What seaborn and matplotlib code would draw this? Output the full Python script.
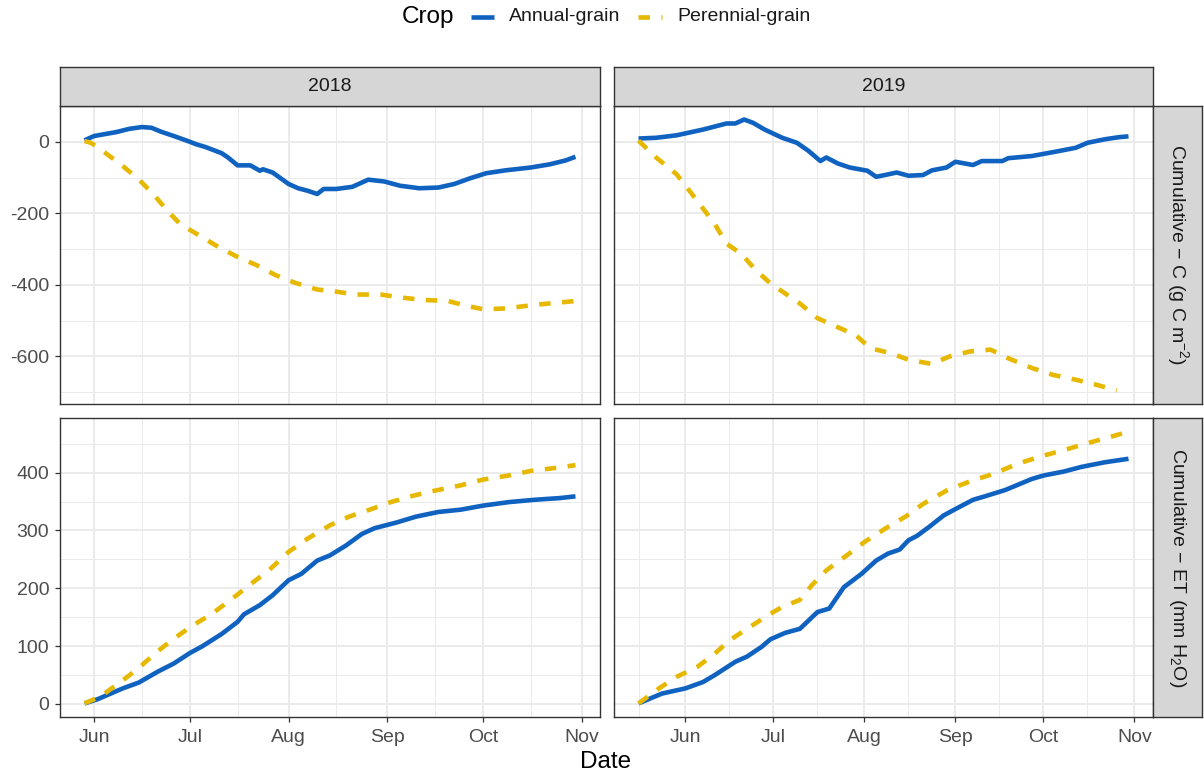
import numpy as np
import pandas as pd
import matplotlib
matplotlib.use("Agg")
import matplotlib.pyplot as plt
import matplotlib.dates as mdates
from matplotlib.lines import Line2D
from matplotlib.ticker import MultipleLocator
import seaborn as sns

# ---------------- data ----------------
years = ["2018", "2019"]
crops = ["Annual-grain", "Perennial-grain"]
variables = ["C", "ET"]
row_labels = ["Cumulative \u2212 C (g C m$^{-2}$)", "Cumulative \u2212 ET (mm H$_2$O)"]

c18_annual_dates = ["05-29", "06-01", "06-08", "06-12", "06-16", "06-19", "06-22", "06-26", "07-01", "07-03",
                    "07-06", "07-11", "07-13", "07-16", "07-20", "07-23", "07-24", "07-27", "08-01", "08-04",
                    "08-07", "08-10", "08-12", "08-16", "08-21", "08-23", "08-26", "08-31", "09-05", "09-11",
                    "09-17", "09-22", "09-27", "10-02", "10-08", "10-16", "10-22", "10-27", "10-30"]
c18_annual = [4, 16, 27, 36, 41, 39, 28, 16, 0, -7,
              -15, -32, -44, -66, -66, -81, -77, -86, -118, -130,
              -137, -146, -132, -132, -126, -118, -106, -111, -123, -130,
              -128, -118, -102, -88, -80, -72, -63, -52, -42]

c18_perennial_dates = ["05-29", "05-31", "06-03", "06-10", "06-15", "06-20", "06-24", "06-28", "07-04", "07-10",
                       "07-16", "07-22", "07-28", "08-03", "08-10", "08-16", "08-22", "08-30", "09-05", "09-12",
                       "09-20", "09-26", "10-01", "10-08", "10-17", "10-24", "10-30"]
c18_perennial = [2, -3, -21, -68, -105, -151, -193, -230, -262, -294,
                 -322, -345, -373, -394, -413, -419, -427, -427, -435, -442,
                 -445, -459, -468, -466, -456, -450, -445]

c19_annual_dates = ["05-16", "05-22", "05-29", "06-07", "06-15", "06-18", "06-21", "06-24", "06-28", "07-04",
                    "07-09", "07-13", "07-17", "07-19", "07-23", "07-27", "08-02", "08-05", "08-08", "08-12",
                    "08-16", "08-21", "08-24", "08-29", "09-01", "09-07", "09-10", "09-17", "09-19", "09-27",
                    "10-05", "10-12", "10-16", "10-22", "10-27", "10-30"]
c19_annual = [9, 11, 18, 34, 51, 51, 62, 53, 34, 11,
              -3, -26, -54, -44, -61, -72, -81, -98, -93, -86,
              -95, -93, -80, -72, -56, -65, -54, -54, -46, -40,
              -28, -17, -3, 7, 13, 15]

c19_perennial_dates = ["05-16", "05-22", "05-29", "06-05", "06-11", "06-15", "06-20", "06-25", "06-30", "07-05",
                       "07-10", "07-16", "07-22", "07-29", "08-03", "08-10", "08-16", "08-24", "08-30", "09-06",
                       "09-13", "09-19", "09-27", "10-04", "10-12", "10-19", "10-26"]
c19_perennial = [3, -44, -91, -165, -230, -285, -313, -359, -396, -424,
                 -452, -493, -515, -540, -577, -591, -609, -621, -600, -586,
                 -581, -605, -632, -651, -665, -679, -695]

et18_annual_dates = ["05-29", "06-02", "06-10", "06-15", "06-21", "06-26", "07-01", "07-05", "07-11", "07-16",
                     "07-18", "07-23", "07-27", "08-01", "08-05", "08-10", "08-14", "08-19", "08-24", "08-28",
                     "09-04", "09-10", "09-17", "09-24", "10-01", "10-09", "10-17", "10-25", "10-30"]
et18_annual = [1, 8, 27, 37, 56, 70, 88, 100, 121, 142,
               155, 171, 188, 214, 225, 248, 257, 274, 294, 304,
               314, 324, 332, 336, 343, 349, 353, 356, 359]

et18_perennial_dates = ["05-29", "06-03", "06-10", "06-15", "06-20", "06-26", "07-02", "07-08", "07-15", "07-21",
                        "07-26", "08-01", "08-07", "08-14", "08-20", "08-27", "09-02", "09-09", "09-16", "09-24",
                        "10-01", "10-09", "10-16", "10-25", "10-30"]
et18_perennial = [1, 13, 41, 62, 87, 113, 136, 156, 185, 211,
                  232, 263, 286, 309, 324, 337, 349, 360, 369, 378,
                  388, 395, 403, 409, 413]

et19_annual_dates = ["05-16", "05-24", "06-01", "06-07", "06-11", "06-18", "06-22", "06-27", "06-30", "07-05",
                     "07-10", "07-16", "07-20", "07-25", "07-31", "08-05", "08-09", "08-13", "08-16", "08-19",
                     "08-23", "08-28", "09-01", "09-07", "09-11", "09-18", "09-27", "10-01", "10-08", "10-14",
                     "10-22", "10-30"]
et19_annual = [1, 18, 27, 38, 50, 73, 82, 99, 112, 123,
               130, 159, 165, 202, 225, 248, 260, 267, 283, 291,
               306, 326, 337, 353, 359, 370, 389, 395, 402, 410,
               418, 424]

et19_perennial_dates = ["05-16", "05-23", "05-29", "06-05", "06-11", "06-16", "06-22", "06-29", "07-04", "07-10",
                        "07-14", "07-19", "07-26", "08-01", "08-08", "08-15", "08-21", "08-29", "09-06", "09-14",
                        "09-22", "09-30", "10-08", "10-16", "10-24", "10-30"]
et19_perennial = [1, 27, 47, 64, 87, 110, 130, 153, 168, 180,
                  205, 231, 257, 280, 303, 324, 346, 369, 385, 398,
                  415, 428, 439, 451, 462, 471]

series = [
    ("C", "2018", "Annual-grain", c18_annual_dates, c18_annual),
    ("C", "2018", "Perennial-grain", c18_perennial_dates, c18_perennial),
    ("C", "2019", "Annual-grain", c19_annual_dates, c19_annual),
    ("C", "2019", "Perennial-grain", c19_perennial_dates, c19_perennial),
    ("ET", "2018", "Annual-grain", et18_annual_dates, et18_annual),
    ("ET", "2018", "Perennial-grain", et18_perennial_dates, et18_perennial),
    ("ET", "2019", "Annual-grain", et19_annual_dates, et19_annual),
    ("ET", "2019", "Perennial-grain", et19_perennial_dates, et19_perennial),
]
frames = []
for var, yr, crop, dts, vals in series:
    frames.append(pd.DataFrame({
        "Variable": var, "Year": yr, "Crop": crop,
        "Date": pd.to_datetime([f"{yr}-{d}" for d in dts]),
        "Value": vals,
    }))
df = pd.concat(frames, ignore_index=True)

# ---------------- style ----------------
sns.set_theme(style="white")
plt.rcParams["font.family"] = ["Liberation Sans", "DejaVu Sans"]
plt.rcParams["mathtext.fontset"] = "custom"
plt.rcParams["mathtext.rm"] = "Liberation Sans"
plt.rcParams["mathtext.it"] = "Liberation Sans:italic"
plt.rcParams["mathtext.bf"] = "Liberation Sans:bold"
plt.rcParams["mathtext.default"] = "regular"
plt.rcParams["axes.unicode_minus"] = False
plt.rcParams["lines.solid_capstyle"] = "butt"
plt.rcParams["lines.dash_capstyle"] = "butt"

palette = {"Annual-grain": "#0F62C0", "Perennial-grain": "#E7B800"}
dash_map = {"Annual-grain": "", "Perennial-grain": (2.5, 2.5)}
LW = 3.3

W, H = 1204, 780
fig = plt.figure(figsize=(W / 100, H / 100), dpi=100)
fig.patch.set_facecolor("white")

col_x = [(60, 600), (614, 1153)]
row_y = [(106, 404), (418, 717)]
border = "#333333"

def fx(px):
    return px / W

def fy(py):
    return 1 - py / H

# limits with ggplot-like 5% expansion
ylims = {}
for var in variables:
    v = df[df.Variable == var].Value
    r = v.max() - v.min()
    ylims[var] = (v.min() - 0.05 * r, v.max() + 0.05 * r)
xlims = {}
for yr in years:
    d = df[df.Year == yr].Date
    r = d.max() - d.min()
    xlims[yr] = (d.min() - 0.05 * r, d.max() + 0.05 * r)

for ri, var in enumerate(variables):
    for ci, yr in enumerate(years):
        x0, x1 = col_x[ci]
        y0, y1 = row_y[ri]
        ax = fig.add_axes([fx(x0), fy(y1), fx(x1 - x0), (y1 - y0) / H])
        sub = df[(df.Variable == var) & (df.Year == yr)]
        sns.lineplot(data=sub, x="Date", y="Value", hue="Crop", style="Crop",
                     hue_order=crops, style_order=crops, palette=palette,
                     dashes=dash_map, linewidth=LW, estimator=None,
                     legend=False, ax=ax)
        ax.set_xlim(*xlims[yr])
        ax.set_ylim(*ylims[var])
        ax.xaxis.set_major_locator(mdates.MonthLocator())
        ax.xaxis.set_minor_locator(mdates.DayLocator(bymonthday=16))
        ax.xaxis.set_major_formatter(mdates.DateFormatter("%b"))
        if var == "C":
            ax.yaxis.set_major_locator(MultipleLocator(200))
            ax.yaxis.set_minor_locator(MultipleLocator(100))
        else:
            ax.yaxis.set_major_locator(MultipleLocator(100))
            ax.yaxis.set_minor_locator(MultipleLocator(50))
        ax.set_axisbelow(True)
        ax.grid(which="major", color="#EBEBEB", lw=1.4)
        ax.grid(which="minor", color="#EBEBEB", lw=0.7)
        for s in ax.spines.values():
            s.set_color(border)
            s.set_linewidth(1.0)
        ax.set_xlabel("")
        ax.set_ylabel("")
        ax.tick_params(which="minor", length=0)
        ax.tick_params(which="major", length=3.8, width=0.9, color=border,
                       labelsize=14, labelcolor="#4D4D4D", pad=4)
        ax.tick_params(axis="x", which="major", bottom=(ri == 1), labelbottom=(ri == 1), pad=5)
        ax.tick_params(axis="y", which="major", left=(ci == 0), labelleft=(ci == 0))

        # top strip
        if ri == 0:
            sax = fig.add_axes([fx(x0), fy(106), fx(x1 - x0), 39 / H])
            sax.set_facecolor("#D6D6D6")
            sax.set_xticks([]); sax.set_yticks([])
            for s in sax.spines.values():
                s.set_color(border); s.set_linewidth(1.0)
            sax.text(0.5, 0.5, yr, ha="center", va="center", fontsize=14,
                     color="#1A1A1A", transform=sax.transAxes)
    # right strip
    y0, y1 = row_y[ri]
    rax = fig.add_axes([fx(1153), fy(y1), fx(1202 - 1153), (y1 - y0) / H])
    rax.set_facecolor("#D6D6D6")
    rax.set_xticks([]); rax.set_yticks([])
    for s in rax.spines.values():
        s.set_color(border); s.set_linewidth(1.0)
    rax.text(0.5, 0.5, row_labels[ri], ha="center", va="center", rotation=270,
             fontsize=14, color="#1A1A1A", transform=rax.transAxes)

# axis title
fig.text(fx(606), fy(762), "Date", ha="center", va="center", fontsize=17.5, color="black")

# legend (top)
ly = fy(16.5)
fig.text(fx(402), ly, "Crop", ha="left", va="center", fontsize=17.5, color="black")
fig.add_artist(Line2D([fx(471), fx(494)], [ly, ly], color=palette["Annual-grain"], lw=LW,
                      solid_capstyle="butt", transform=fig.transFigure))
fig.text(fx(509), ly, "Annual-grain", ha="left", va="center", fontsize=14, color="#1A1A1A")
kl = Line2D([fx(638), fx(662)], [ly, ly], color=palette["Perennial-grain"], lw=LW,
            transform=fig.transFigure)
kl.set_dashes(dash_map["Perennial-grain"])
fig.add_artist(kl)
fig.text(fx(677), ly, "Perennial-grain", ha="left", va="center", fontsize=14, color="#1A1A1A")

fig.savefig("out.png", dpi=100, facecolor="white")
